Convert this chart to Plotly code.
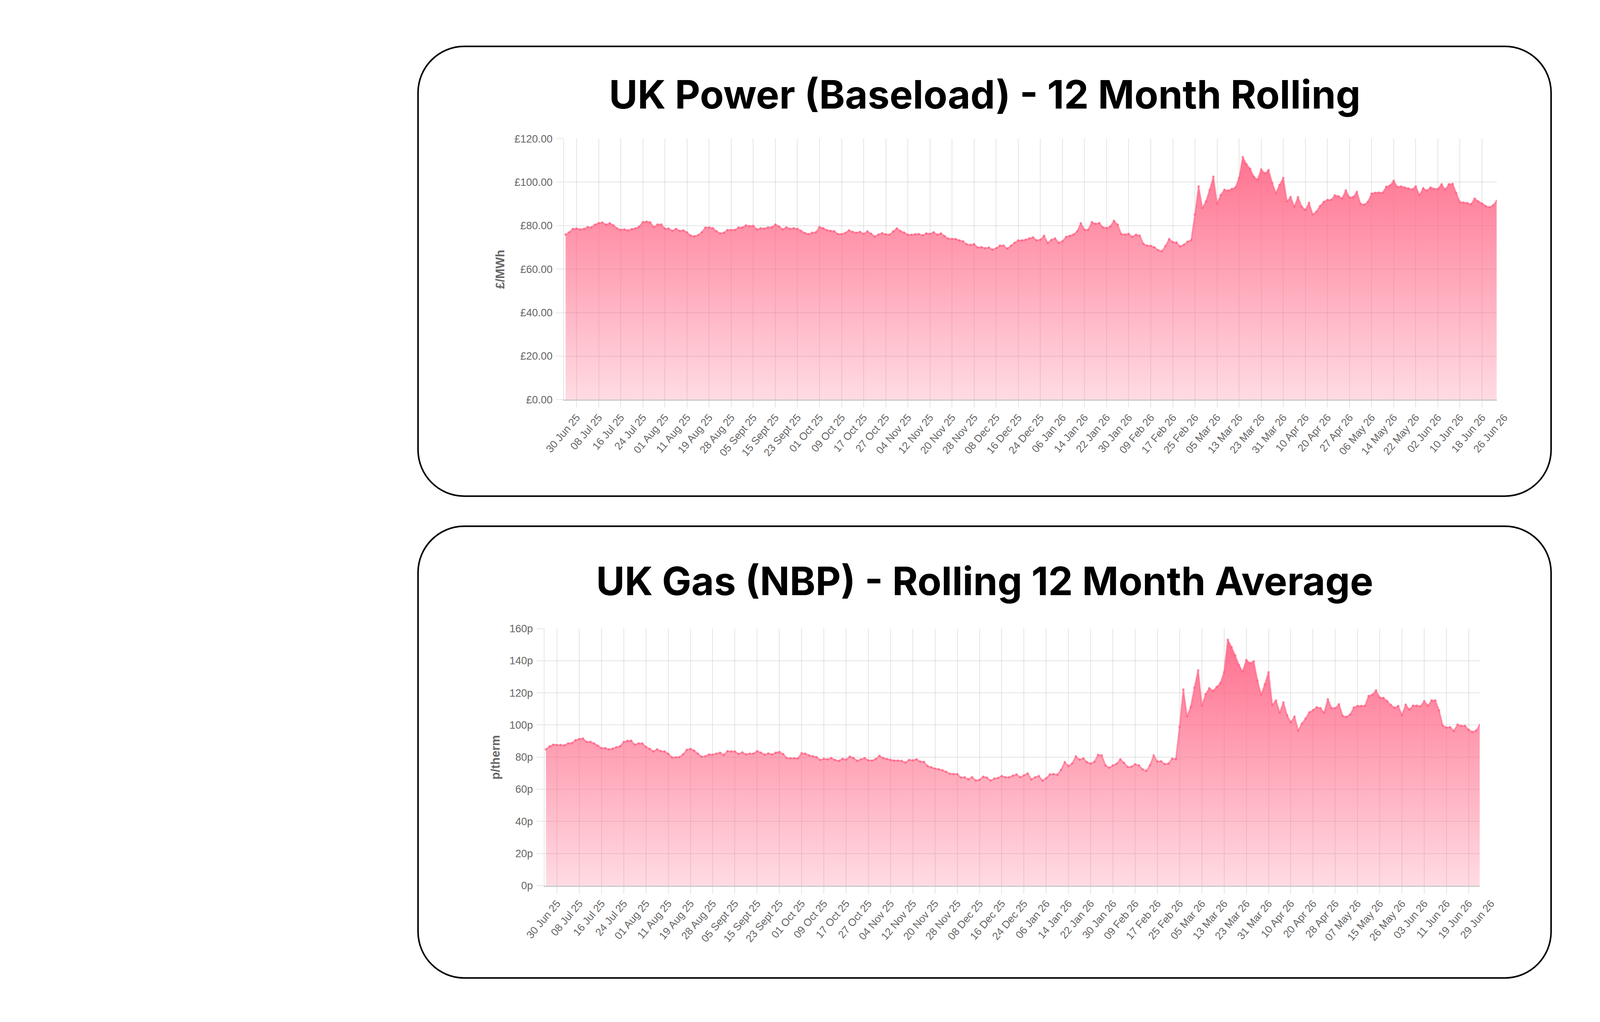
import plotly.graph_objects as go

# UK Power (Baseload) 12 month rolling price, £/MWh, one value per trading day
power_prices = [
    75.9, 76.9, 78.5, 78.6, 78.2, 78.5, 79.3, 79.2, 80.4, 81.2,
    81.4, 80.4, 81.1, 80.1, 78.7, 78.1, 78.2, 77.8, 78.4, 78.7,
    79.5, 81.6, 81.8, 81.5, 79.3, 80.5, 80.5, 78.6, 78.6, 77.6,
    78.5, 77.6, 77.8, 76.9, 75.4, 75.1, 75.6, 76.9, 79.1, 79.1,
    78.8, 77.4, 76.4, 76.7, 78.0, 78.0, 78.0, 79.1, 79.1, 80.1,
    79.8, 79.9, 78.2, 78.8, 78.6, 79.2, 79.2, 80.5, 79.6, 78.2,
    79.2, 78.5, 78.8, 78.5, 77.6, 76.6, 76.1, 76.7, 76.9, 79.3,
    78.8, 77.9, 77.6, 77.4, 76.1, 76.1, 76.6, 77.8, 77.1, 76.7,
    77.1, 76.2, 77.3, 76.3, 75.0, 75.9, 76.5, 76.0, 75.8, 77.3,
    78.7, 77.5, 76.8, 75.8, 75.8, 76.0, 76.1, 75.5, 76.4, 76.2,
    76.9, 75.8, 76.4, 75.1, 74.0, 73.9, 73.8, 73.2, 72.8, 71.4,
    71.1, 71.5, 69.9, 70.1, 69.6, 69.9, 68.9, 69.6, 70.8, 70.8,
    69.4, 70.7, 72.1, 73.2, 73.2, 73.5, 74.1, 74.6, 73.2, 73.5,
    75.3, 72.0, 73.4, 74.1, 72.1, 72.8, 74.8, 75.3, 75.9, 77.3,
    81.1, 78.1, 78.1, 81.6, 80.8, 81.2, 79.2, 78.9, 79.6, 82.2,
    80.4, 76.1, 75.9, 76.2, 74.8, 75.8, 75.4, 71.6, 70.8, 70.7,
    70.0, 68.7, 68.2, 70.6, 73.8, 72.4, 72.2, 70.4, 71.2, 72.6,
    73.3, 85.1, 98.0, 88.1, 91.1, 96.4, 102.5, 90.2, 94.0, 96.5,
    96.1, 96.8, 97.5, 101.9, 111.5, 108.2, 106.1, 102.5, 101.1, 105.8,
    104.0, 105.5, 99.6, 94.9, 98.7, 101.9, 91.1, 93.1, 88.7, 93.1,
    88.7, 87.2, 90.5, 85.1, 86.4, 89.0, 90.9, 91.8, 91.8, 93.9,
    93.5, 92.5, 96.2, 92.9, 93.1, 95.5, 90.0, 89.6, 90.9, 94.7,
    95.1, 95.2, 95.1, 97.9, 98.4, 100.6, 97.8, 98.0, 97.5, 97.1,
    96.6, 98.0, 94.0, 97.2, 96.1, 97.5, 96.9, 96.9, 99.0, 96.6,
    99.0, 99.2, 94.9, 90.8, 90.6, 90.4, 89.8, 92.4, 91.1, 90.2,
    89.0, 88.4, 89.3, 91.4,
]

# UK Gas (NBP) rolling 12 month average, p/therm
gas_prices = [
    84.8, 86.7, 87.7, 87.5, 87.5, 87.3, 88.5, 88.7, 90.5, 91.3,
    91.5, 89.4, 89.5, 88.5, 87.1, 85.6, 85.6, 84.8, 85.2, 86.1,
    86.7, 89.4, 90.1, 90.2, 87.7, 88.5, 88.5, 86.3, 85.1, 83.5,
    84.8, 83.7, 83.5, 82.1, 79.8, 79.8, 80.0, 81.6, 84.5, 85.1,
    84.0, 82.1, 80.2, 80.5, 81.6, 81.5, 82.1, 82.7, 81.3, 83.7,
    83.5, 83.5, 81.9, 82.9, 81.6, 82.1, 82.1, 83.7, 82.7, 81.5,
    82.3, 81.6, 82.7, 83.2, 81.9, 79.4, 79.2, 79.2, 79.2, 82.4,
    82.1, 81.0, 80.5, 80.0, 78.2, 78.9, 78.6, 79.4, 78.2, 77.6,
    78.9, 78.4, 80.3, 79.4, 77.7, 78.6, 79.4, 78.0, 77.8, 78.8,
    80.8, 79.4, 78.8, 78.2, 77.8, 77.8, 77.6, 76.6, 78.2, 78.0,
    78.6, 77.2, 77.0, 74.4, 73.6, 72.8, 72.4, 71.8, 70.8, 69.6,
    69.4, 69.4, 67.2, 67.4, 66.2, 67.5, 65.4, 65.8, 67.8, 67.2,
    65.4, 66.6, 67.0, 68.2, 67.4, 67.4, 68.4, 69.2, 67.4, 68.6,
    69.8, 66.0, 67.4, 68.2, 65.4, 66.8, 69.2, 69.4, 69.0, 72.0,
    76.8, 74.4, 76.0, 80.4, 78.4, 79.2, 76.8, 76.0, 77.0, 81.4,
    81.0, 74.8, 73.4, 74.8, 75.8, 78.6, 76.4, 73.8, 74.0, 75.5,
    74.8, 72.4, 71.4, 74.8, 81.0, 77.2, 77.4, 75.6, 76.0, 79.0,
    78.8, 98.8, 122.0, 105.4, 111.2, 123.2, 134.0, 112.0, 119.0, 122.8,
    121.2, 123.6, 126.0, 132.8, 153.0, 148.4, 143.2, 137.2, 133.2, 140.4,
    138.4, 139.6, 127.6, 118.8, 125.2, 132.8, 112.4, 115.2, 107.6, 114.0,
    106.0, 101.6, 105.2, 96.4, 100.8, 104.0, 107.8, 109.2, 111.0, 110.4,
    107.6, 116.0, 110.4, 110.4, 112.8, 105.6, 105.0, 106.4, 110.8, 111.8,
    111.8, 111.8, 118.0, 118.8, 121.4, 117.0, 116.8, 114.8, 112.4, 110.6,
    111.8, 106.0, 112.6, 109.6, 112.0, 112.0, 111.6, 114.8, 112.0, 115.2,
    115.2, 109.0, 99.6, 98.4, 98.6, 96.2, 100.2, 99.4, 99.4, 97.0,
    95.6, 96.4, 100.0,
]

power_tick_labels = [
    "30 Jun 25", "08 Jul 25", "16 Jul 25", "24 Jul 25", "01 Aug 25", "11 Aug 25",
    "19 Aug 25", "28 Aug 25", "05 Sept 25", "15 Sept 25", "23 Sept 25", "01 Oct 25",
    "09 Oct 25", "17 Oct 25", "27 Oct 25", "04 Nov 25", "12 Nov 25", "20 Nov 25",
    "28 Nov 25", "08 Dec 25", "16 Dec 25", "24 Dec 25", "06 Jan 26", "14 Jan 26",
    "22 Jan 26", "30 Jan 26", "09 Feb 26", "17 Feb 26", "25 Feb 26", "05 Mar 26",
    "13 Mar 26", "23 Mar 26", "31 Mar 26", "10 Apr 26", "20 Apr 26", "27 Apr 26",
    "06 May 26", "14 May 26", "22 May 26", "02 Jun 26", "10 Jun 26", "18 Jun 26",
    "26 Jun 26",
]

gas_tick_labels = [
    "30 Jun 25", "08 Jul 25", "16 Jul 25", "24 Jul 25", "01 Aug 25", "11 Aug 25",
    "19 Aug 25", "28 Aug 25", "05 Sept 25", "15 Sept 25", "23 Sept 25", "01 Oct 25",
    "09 Oct 25", "17 Oct 25", "27 Oct 25", "04 Nov 25", "12 Nov 25", "20 Nov 25",
    "28 Nov 25", "08 Dec 25", "16 Dec 25", "24 Dec 25", "06 Jan 26", "14 Jan 26",
    "22 Jan 26", "30 Jan 26", "09 Feb 26", "17 Feb 26", "25 Feb 26", "05 Mar 26",
    "13 Mar 26", "23 Mar 26", "31 Mar 26", "10 Apr 26", "20 Apr 26", "28 Apr 26",
    "07 May 26", "15 May 26", "26 May 26", "03 Jun 26", "11 Jun 26", "19 Jun 26",
    "29 Jun 26",
]

W, H = 5000, 2617
PINK = "255,99,132"
GRID = "rgba(0,0,0,0.1)"
TICK_FONT = dict(family="Liberation Sans, Arial, sans-serif", size=27, color="#666666")
FIRST_TICK, TICK_STEP = 3, 6


def rounded_box(x0, y0, x1, y1, r):
    """SVG path (paper units) for a rounded rectangle given in page pixels"""
    k = 0.5523 * r

    def pt(x, y):
        return f"{x / W:.5f},{1 - y / H:.5f}"

    return (
        f"M{pt(x0 + r, y0)} L{pt(x1 - r, y0)} "
        f"C{pt(x1 - r + k, y0)} {pt(x1, y0 + r - k)} {pt(x1, y0 + r)} "
        f"L{pt(x1, y1 - r)} "
        f"C{pt(x1, y1 - r + k)} {pt(x1 - r + k, y1)} {pt(x1 - r, y1)} "
        f"L{pt(x0 + r, y1)} "
        f"C{pt(x0 + r - k, y1)} {pt(x0, y1 - r + k)} {pt(x0, y1 - r)} "
        f"L{pt(x0, y0 + r)} "
        f"C{pt(x0, y0 + r - k)} {pt(x0 + r - k, y0)} {pt(x0 + r, y0)} Z"
    )


def area_trace(values, xaxis, yaxis, top):
    return go.Scatter(
        x=list(range(len(values))),
        y=values,
        xaxis=xaxis,
        yaxis=yaxis,
        mode="lines+markers",
        line=dict(color=f"rgba({PINK},0.6)", width=4),
        marker=dict(size=6, color=f"rgba({PINK},0.75)", line=dict(width=0)),
        fill="tozeroy",
        fillgradient=dict(
            type="vertical",
            start=0,
            stop=top,
            colorscale=[[0, f"rgba({PINK},0.22)"], [1, f"rgba({PINK},0.95)"]],
        ),
        showlegend=False,
        hoverinfo="skip",
    )


def label_holder(labels, xaxis, yaxis):
    # invisible points so plotly draws the label-only axis
    last = FIRST_TICK + TICK_STEP * (len(labels) - 1)
    return go.Scatter(x=[0, last], y=[0.5, 0.5], xaxis=xaxis, yaxis=yaxis,
                      mode="markers", marker=dict(opacity=0), showlegend=False,
                      hoverinfo="skip")


def grid_x_axis(x0, x1, values, n_labels, anchor):
    # gridlines + tick marks only; the last label has no gridline in the original
    return dict(
        domain=[x0 / W, x1 / W],
        anchor=anchor,
        range=[-0.4, len(values) - 1],
        tickmode="array",
        tickvals=[FIRST_TICK + TICK_STEP * k for k in range(n_labels - 1)],
        showticklabels=False,
        ticks="outside",
        ticklen=18,
        tickwidth=2.3,
        tickcolor=GRID,
        showgrid=True,
        gridcolor=GRID,
        gridwidth=2.3,
        zeroline=False,
        showline=True,
        linecolor="rgba(0,0,0,0.22)",
        linewidth=3,
        fixedrange=True,
    )


def label_x_axis(x0, x1, values, labels, anchor):
    # same scale as the grid axis, stretched so the evenly spaced last label fits
    last = FIRST_TICK + TICK_STEP * (len(labels) - 1)
    per_point = (x1 - x0) / (len(values) - 1 + 0.4)
    x_end = x0 + (last + 0.4) * per_point
    return dict(
        domain=[x0 / W, x_end / W],
        anchor=anchor,
        range=[-0.4, last],
        tickmode="array",
        tickvals=[FIRST_TICK + TICK_STEP * k for k in range(len(labels))],
        ticktext=labels,
        tickangle=-50,
        tickfont=TICK_FONT,
        ticks="outside",
        ticklen=18,
        tickcolor="rgba(0,0,0,0)",
        showgrid=False,
        zeroline=False,
        showline=False,
        fixedrange=True,
    )


def y_axis(y_top, y_bottom, top, anchor, **fmt):
    return dict(
        domain=[1 - y_bottom / H, 1 - y_top / H],
        anchor=anchor,
        range=[0, top],
        dtick=20,
        tickfont=TICK_FONT,
        ticks="outside",
        ticklen=18,
        tickwidth=2.3,
        tickcolor=GRID,
        ticklabelstandoff=4,
        showgrid=True,
        gridcolor=GRID,
        gridwidth=2.3,
        zeroline=False,
        showline=True,
        linecolor=GRID,
        linewidth=2.3,
        fixedrange=True,
        **fmt,
    )


def hidden_y_axis(y_top, y_bottom, anchor):
    return dict(domain=[1 - y_bottom / H, 1 - y_top / H], anchor=anchor, range=[0, 1],
                visible=False, showgrid=False, zeroline=False, fixedrange=True)


fig = go.Figure()
fig.add_trace(area_trace(power_prices, "x", "y", 120))
fig.add_trace(area_trace(gas_prices, "x2", "y2", 160))
fig.add_trace(label_holder(power_tick_labels, "x3", "y3"))
fig.add_trace(label_holder(gas_tick_labels, "x4", "y4"))

title_font = dict(family="Inter, Open Sans, sans-serif", size=100, color="#000000", weight=700)
axis_title_font = dict(family="Liberation Sans, Arial, sans-serif", size=31, color="#666666", weight=700)

fig.update_layout(
    width=W,
    height=H,
    margin=dict(l=0, r=0, t=0, b=0),
    paper_bgcolor="white",
    plot_bgcolor="rgba(0,0,0,0)",
    xaxis=grid_x_axis(1411, 3831, power_prices, len(power_tick_labels), "y"),
    yaxis=y_axis(344, 1020, 120, "x", tickprefix="£", tickformat=".2f"),
    xaxis2=grid_x_axis(1360, 3787, gas_prices, len(gas_tick_labels), "y2"),
    yaxis2=y_axis(1613, 2279, 160, "x2", ticksuffix="p"),
    xaxis3=label_x_axis(1411, 3831, power_prices, power_tick_labels, "y3"),
    yaxis3=hidden_y_axis(344, 1020, "x3"),
    xaxis4=label_x_axis(1360, 3787, gas_prices, gas_tick_labels, "y4"),
    yaxis4=hidden_y_axis(1613, 2279, "x4"),
    shapes=[
        dict(type="path", xref="paper", yref="paper", path=rounded_box(1032, 105, 3972, 1270, 120),
             line=dict(color="black", width=4), fillcolor="rgba(0,0,0,0)", layer="below"),
        dict(type="path", xref="paper", yref="paper", path=rounded_box(1032, 1348, 3972, 2518, 120),
             line=dict(color="black", width=4), fillcolor="rgba(0,0,0,0)", layer="below"),
    ],
    annotations=[
        dict(text="UK Power (Baseload) - 12 Month Rolling", xref="paper", yref="paper",
             x=2503 / W, y=1 - 229 / H, xanchor="center", yanchor="middle",
             showarrow=False, font=title_font),
        dict(text="UK Gas (NBP) - Rolling 12 Month Average", xref="paper", yref="paper",
             x=2503 / W, y=1 - 1490 / H, xanchor="center", yanchor="middle",
             showarrow=False, font=title_font),
        dict(text="£/MWh", xref="paper", yref="paper", x=1245 / W, y=1 - 682 / H,
             xanchor="center", yanchor="middle", textangle=-90, showarrow=False,
             font=axis_title_font),
        dict(text="p/therm", xref="paper", yref="paper", x=1233 / W, y=1 - 1946 / H,
             xanchor="center", yanchor="middle", textangle=-90, showarrow=False,
             font=axis_title_font),
    ],
)

fig.write_html("out.html", config={"displayModeBar": False},
               post_script="document.body.style.margin='0';")
